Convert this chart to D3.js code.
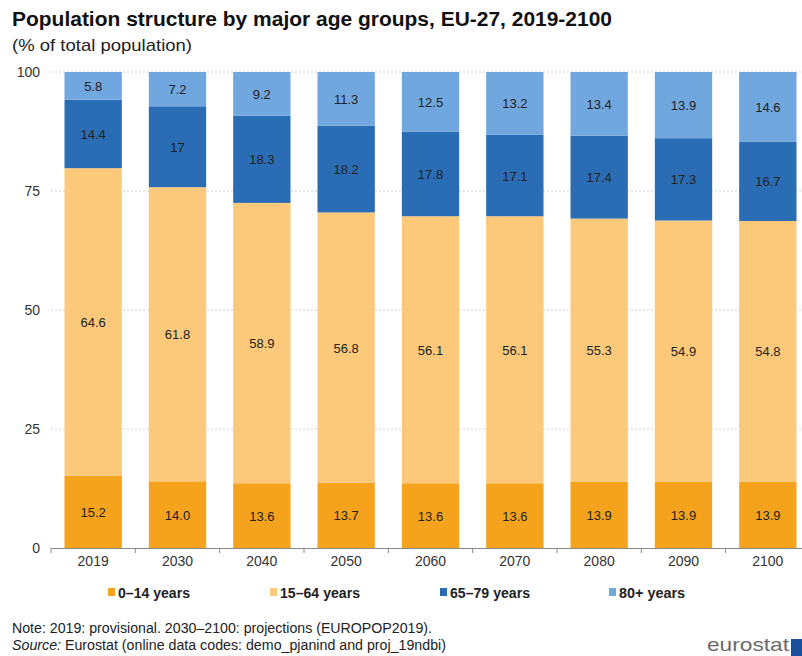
<!DOCTYPE html>
<html><head><meta charset="utf-8">
<script src="https://cdn.jsdelivr.net/npm/d3@7"></script>
<style>
body{margin:0;background:#fff;}
svg{display:block;font-family:"Liberation Sans",Arial,sans-serif;}
</style></head>
<body>
<svg id="c" width="802" height="656"></svg>
<script>
const years = ["2019","2030","2040","2050","2060","2070","2080","2090","2100"];
const seriesNames = ["0\u201314 years","15\u201364 years","65\u201379 years","80+ years"];
const age0_14 = [15.2,14.0,13.6,13.7,13.6,13.6,13.9,13.9,13.9];
const age15_64 = [64.6,61.8,58.9,56.8,56.1,56.1,55.3,54.9,54.8];
const age65_79 = [14.4,17,18.3,18.2,17.8,17.1,17.4,17.3,16.7];
const age80p = [5.8,7.2,9.2,11.3,12.5,13.2,13.4,13.9,14.6];
const yTicks = [0,25,50,75,100];
const colors = ["#f5a31d","#fcc97a","#2a6db5","#70a7de"];

const svg = d3.select("#c");
const m = {left:51,right:810,top:72,bottom:548};
const x = d3.scaleBand().domain(years).range([m.left,m.right]).paddingInner(0.32).paddingOuter(0.16);
const y = d3.scaleLinear().domain([0,100]).range([m.bottom,m.top]);

// title
svg.append("text").attr("x",12).attr("y",26).attr("font-size",20).attr("font-weight","bold").attr("fill","#111")
  .attr("textLength",600).attr("lengthAdjust","spacingAndGlyphs")
  .text("Population structure by major age groups, EU-27, 2019-2100");
svg.append("text").attr("x",12).attr("y",51).attr("font-size",17).attr("fill","#222")
  .attr("textLength",180).attr("lengthAdjust","spacingAndGlyphs")
  .text("(% of total population)");

// grid
svg.append("g").selectAll("line").data(yTicks.filter(d=>d>0)).join("line")
  .attr("x1",m.left).attr("x2",802).attr("y1",d=>y(d)).attr("y2",d=>y(d))
  .attr("stroke","#cfcfcf").attr("stroke-dasharray","2,2");

// y axis labels
const ya = svg.append("g").attr("transform",`translate(${m.left},0)`)
  .call(d3.axisLeft(y).tickValues(yTicks).tickSize(0).tickPadding(11));
ya.select(".domain").remove();
ya.selectAll("text").attr("font-size",14).attr("fill","#333").attr("font-family","Liberation Sans,Arial,sans-serif");

// stack
const rows = years.map((yr,i)=>({year:yr,s0:age0_14[i],s1:age15_64[i],s2:age65_79[i],s3:age80p[i]}));
const keys = ["s0","s1","s2","s3"];
const stack = d3.stack().keys(keys)(rows);
const labelFmt = [v=>v.toFixed(1), v=>String(v), v=>String(v), v=>String(v)];

stack.forEach((layer,k)=>{
  const g = svg.append("g");
  g.selectAll("rect").data(layer).join("rect")
    .attr("x",d=>x(d.data.year)).attr("width",x.bandwidth())
    .attr("y",d=>y(d[1])).attr("height",d=>y(d[0])-y(d[1]))
    .attr("fill",colors[k]);
  g.selectAll("text").data(layer).join("text")
    .attr("x",d=>x(d.data.year)+x.bandwidth()/2)
    .attr("y",d=>(y(d[0])+y(d[1]))/2+5)
    .attr("text-anchor","middle").attr("font-size",13).attr("fill","#222")
    .text(d=>labelFmt[k](d.data[keys[k]]));
});

// x axis
const xa = svg.append("g").attr("transform",`translate(0,${m.bottom})`)
  .call(d3.axisBottom(x).tickSize(0).tickPadding(8));
xa.select(".domain").attr("d",`M${m.left},0.5H802`).attr("stroke","#8a8a8a");
xa.selectAll("text").attr("font-size",14).attr("fill","#333").attr("font-family","Liberation Sans,Arial,sans-serif");
const bounds = [m.left].concat(years.slice(1).map(d=>x(d)-x.step()*x.paddingInner()/2));
xa.selectAll("line.b").data(bounds).join("line").attr("class","b")
  .attr("x1",d=>d).attr("x2",d=>d).attr("y1",0).attr("y2",5).attr("stroke","#8a8a8a");

// legend
const legX = [108,270,440,609];
const legW = [72,80,80,66];
const lg = svg.append("g");
seriesNames.forEach((n,i)=>{
  lg.append("rect").attr("x",legX[i]).attr("y",588).attr("width",7).attr("height",8).attr("fill",colors[i]);
  lg.append("text").attr("x",legX[i]+10).attr("y",598).attr("font-size",14)
    .attr("font-weight","bold").attr("fill","#222")
    .attr("textLength",legW[i]).attr("lengthAdjust","spacingAndGlyphs").text(n);
});

// notes
svg.append("text").attr("x",12).attr("y",633).attr("font-size",14).attr("fill","#222")
  .attr("textLength",420).attr("lengthAdjust","spacingAndGlyphs")
  .text("Note: 2019: provisional. 2030\u20132100: projections (EUROPOP2019).");
const src = svg.append("text").attr("x",12).attr("y",650).attr("font-size",14).attr("fill","#222")
  .attr("textLength",434).attr("lengthAdjust","spacingAndGlyphs");
src.append("tspan").attr("font-style","italic").text("Source:");
src.append("tspan").text(" Eurostat (online data codes: demo_pjanind and proj_19ndbi)");

// logo
svg.append("text").attr("x",707).attr("y",651).attr("font-size",19).attr("fill","#6b6b6b")
  .attr("textLength",82).attr("lengthAdjust","spacingAndGlyphs").text("eurostat");
svg.append("rect").attr("x",791).attr("y",639).attr("width",11).attr("height",17).attr("fill","#1a4f9c");
</script>
</body></html>
